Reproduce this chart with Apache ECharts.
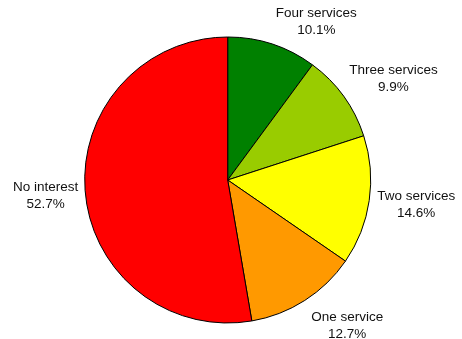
<!DOCTYPE html>
<html>
<head>
<meta charset="utf-8">
<script src="https://cdn.jsdelivr.net/npm/echarts@6/dist/echarts.min.js"></script>
<style>
  html, body { margin: 0; padding: 0; background: #ffffff; }
  #chart { width: 462px; height: 339px; }
</style>
</head>
<body>
<div id="chart"></div>
<script>
// Interest in services, share of respondents (%)
const categories = ['Four services', 'Three services', 'Two services', 'One service', 'No interest'];
const shares = [10.1, 9.9, 14.6, 12.7, 52.7];
const sliceColors = ['#008000', '#99cc00', '#ffff00', '#ff9900', '#ff0000'];

// Nudges applied to each outside label (pixels), so the captions sit clear of the rim
const labelNudge = [[-1.5, -22.5], [0.5, -17.5], [3, 4], [1.5, 25], [-2, 3.5]];

const chart = echarts.init(document.getElementById('chart'), null, { renderer: 'canvas' });

chart.setOption({
  animation: false,
  series: [{
    type: 'pie',
    center: [227.7, 180],
    radius: 143,
    startAngle: 90,
    clockwise: true,
    avoidLabelOverlap: false,
    data: categories.map((name, i) => ({
      name: name,
      value: shares[i],
      itemStyle: { color: sliceColors[i] }
    })),
    itemStyle: { borderColor: '#000000', borderWidth: 1 },
    label: {
      show: true,
      position: 'outside',
      formatter: p => p.name + '\n' + p.value.toFixed(1) + '%',
      fontFamily: 'Liberation Sans, Arial, sans-serif',
      fontSize: 13.5,
      lineHeight: 17,
      color: '#111111',
      textAlign: 'center'
    },
    labelLine: { show: false, length: 0, length2: 0 },
    labelLayout: function (params) {
      const r = params.labelRect;
      const n = labelNudge[params.dataIndex];
      return {
        x: r.x + r.width / 2 + n[0],
        y: r.y + r.height / 2 + n[1],
        align: 'center',
        verticalAlign: 'middle'
      };
    },
    emphasis: { disabled: true }
  }]
});
</script>
</body>
</html>
